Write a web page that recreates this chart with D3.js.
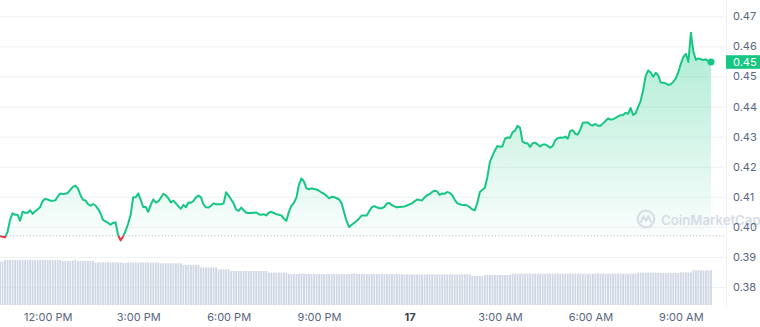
<!DOCTYPE html>
<html><head><meta charset="utf-8">
<script src="https://cdn.jsdelivr.net/npm/d3@7"></script>
<style>html,body{margin:0;padding:0;background:#fff;overflow:hidden}svg{display:block;font-family:Inter,"Noto Sans",sans-serif}</style>
</head><body><svg id="chart" width="760" height="327"></svg>
<script>
const startTime = new Date(2024, 2, 16, 10, 25);
const stepMinutes = 5;
const prices = [
0.3970,0.3967,0.3965,0.3983,0.4023,0.4045,0.4040,0.4040,0.4020,0.4050,
0.4047,0.4047,0.4055,0.4043,0.4052,0.4058,0.4066,0.4086,0.4093,0.4091,
0.4087,0.4087,0.4088,0.4101,0.4111,0.4109,0.4110,0.4113,0.4123,0.4133,
0.4137,0.4128,0.4106,0.4090,0.4088,0.4076,0.4070,0.4076,0.4071,0.4060,
0.4045,0.4023,0.4018,0.4013,0.4007,0.4013,0.4015,0.3973,0.3955,0.3968,
0.3987,0.4010,0.4040,0.4098,0.4098,0.4111,0.4090,0.4066,0.4066,0.4050,
0.4073,0.4091,0.4081,0.4085,0.4096,0.4110,0.4105,0.4095,0.4081,0.4087,
0.4078,0.4068,0.4060,0.4073,0.4065,0.4081,0.4080,0.4086,0.4098,0.4104,
0.4098,0.4075,0.4065,0.4064,0.4070,0.4078,0.4075,0.4075,0.4075,0.4078,
0.4115,0.4104,0.4091,0.4078,0.4057,0.4053,0.4064,0.4055,0.4047,0.4046,
0.4046,0.4047,0.4048,0.4042,0.4040,0.4042,0.4038,0.4047,0.4050,0.4046,
0.4042,0.4040,0.4038,0.4027,0.4020,0.4050,0.4070,0.4080,0.4098,0.4140,
0.4161,0.4150,0.4128,0.4125,0.4128,0.4126,0.4124,0.4120,0.4114,0.4110,
0.4103,0.4095,0.4100,0.4099,0.4095,0.4091,0.4078,0.4047,0.4018,0.3999,
0.4007,0.4013,0.4020,0.4028,0.4038,0.4038,0.4038,0.4053,0.4065,0.4069,
0.4065,0.4062,0.4062,0.4066,0.4078,0.4079,0.4072,0.4068,0.4065,0.4066,
0.4067,0.4068,0.4071,0.4075,0.4078,0.4085,0.4091,0.4089,0.4088,0.4098,
0.4105,0.4109,0.4116,0.4120,0.4118,0.4106,0.4111,0.4110,0.4116,0.4113,
0.4105,0.4090,0.4079,0.4075,0.4073,0.4073,0.4071,0.4065,0.4058,0.4055,
0.4080,0.4116,0.4123,0.4130,0.4166,0.4216,0.4236,0.4254,0.4269,0.4266,
0.4268,0.4293,0.4297,0.4296,0.4314,0.4320,0.4336,0.4329,0.4283,0.4278,
0.4278,0.4266,0.4278,0.4280,0.4274,0.4267,0.4274,0.4274,0.4269,0.4263,
0.4269,0.4288,0.4295,0.4297,0.4296,0.4300,0.4293,0.4319,0.4321,0.4309,
0.4307,0.4324,0.4346,0.4347,0.4347,0.4339,0.4337,0.4342,0.4336,0.4336,
0.4344,0.4352,0.4360,0.4357,0.4358,0.4362,0.4367,0.4371,0.4372,0.4379,
0.4376,0.4395,0.4372,0.4377,0.4399,0.4419,0.4455,0.4502,0.4520,0.4513,
0.4499,0.4512,0.4504,0.4480,0.4479,0.4477,0.4472,0.4474,0.4482,0.4494,
0.4514,0.4542,0.4565,0.4575,0.4548,0.4645,0.4582,0.4555,0.4560,0.4557,
0.4555,0.4557,0.4550,0.4548
];
const volumes = [
96.3,96.3,100,100,100,100,100,100,100,100,
100,100,100,100,100,100,100,100,100,100,
100,100,100,100,100,97.8,97.8,97.8,97.8,98.5,
100.5,97.8,97.8,97.8,97.8,97.8,97.8,97.8,94.8,94.8,
94.8,94.8,94.8,94.8,94.8,94.8,94.8,94.8,94.8,93.5,
93.5,94.8,94.4,94.4,94.4,94.4,94.4,94.4,94.4,94.4,
94.4,94.4,94.4,94.4,92.6,92.6,92.6,92.6,92.6,92.6,
92.6,92.6,92.6,88.9,88.9,88.9,88.9,88.9,88.9,88.9,
83.7,83.7,83.7,83.7,83.7,83.7,83.7,79.3,79.3,79.3,
79.3,79.3,75.6,75.6,75.6,75.6,75.6,75.6,75.6,75.6,
75.6,75.6,75.6,75.6,75.6,75.6,75.6,71.9,71.9,71.9,
71.9,71.9,71.9,71.9,71.9,68.9,68.9,68.9,68.9,68.9,
70.0,70.0,68.9,68.9,68.9,68.9,68.9,68.9,68.9,68.9,
68.9,68.9,68.9,68.9,68.9,68.9,68.9,68.9,68.9,68.9,
70.0,70.0,68.9,68.9,68.9,68.9,68.9,68.9,68.9,68.9,
68.9,68.9,68.9,68.9,68.9,68.9,68.9,68.9,68.9,68.9,
68.1,68.1,68.1,68.1,68.1,68.1,68.1,68.1,68.1,68.1,
68.1,68.1,68.1,68.1,68.1,68.1,68.1,68.1,68.1,68.1,
68.1,68.1,68.1,68.1,68.1,68.1,68.1,68.1,64.4,64.4,
64.4,64.4,64.4,66.7,66.7,66.7,66.7,66.7,66.7,66.7,
66.7,66.7,66.7,66.7,69.6,69.6,69.6,69.6,69.6,69.6,
69.6,69.6,69.6,69.6,69.6,69.6,69.6,69.6,69.6,69.6,
69.6,69.6,69.6,69.6,69.6,69.6,69.6,69.6,69.6,69.6,
69.6,69.6,69.6,69.6,69.6,69.6,69.6,69.6,69.6,69.6,
69.6,69.6,69.6,69.6,69.6,69.6,69.6,69.6,69.6,69.6,
69.6,69.6,69.6,69.6,71.9,71.9,71.9,71.9,71.9,71.9,
71.9,71.9,71.1,71.1,71.1,71.1,71.1,71.1,71.1,71.1,
71.1,72.6,72.6,72.6,72.6,72.6,77.1,77.1,77.1,77.1,
77.1,77.1,77.1,77.1
];
const priceTicks = [0.38,0.39,0.40,0.41,0.42,0.43,0.44,0.45,0.46,0.47];
const timeTicks = [
  new Date(2024,2,16,12,0), new Date(2024,2,16,15,0), new Date(2024,2,16,18,0), new Date(2024,2,16,21,0),
  new Date(2024,2,17,0,0), new Date(2024,2,17,3,0), new Date(2024,2,17,6,0), new Date(2024,2,17,9,0)
];
const timeTickLabels = ["12:00 PM","3:00 PM","6:00 PM","9:00 PM","17","3:00 AM","6:00 AM","9:00 AM"];

const data = prices.map((p, i) => ({
  t: new Date(startTime.getTime() + i * stepMinutes * 60000), p, v: volumes[i]
}));
const ref = prices[0];
const last = data[data.length - 1];

const svg = d3.select("#chart");
const plotRight = 726;
const x = d3.scaleTime().domain([data[0].t, last.t]).range([0, 711]);
const y = d3.scaleLinear().domain([0.38, 0.47]).range([287, 16.3]);
const yv = d3.scaleLinear().domain([0, 100]).range([305, 260]);

const GREEN = "#16c784", RED = "#ea3943";

const defs = svg.append("defs");
const gg = defs.append("linearGradient").attr("id","gGrad").attr("gradientUnits","userSpaceOnUse")
  .attr("x1",0).attr("x2",0).attr("y1",y(d3.max(prices))).attr("y2",y(ref));
gg.append("stop").attr("offset","0%").attr("stop-color",GREEN).attr("stop-opacity",0.36);
gg.append("stop").attr("offset","100%").attr("stop-color",GREEN).attr("stop-opacity",0.02);
const rg = defs.append("linearGradient").attr("id","rGrad").attr("gradientUnits","userSpaceOnUse")
  .attr("x1",0).attr("x2",0).attr("y1",y(ref)).attr("y2",y(d3.min(prices)));
rg.append("stop").attr("offset","0%").attr("stop-color",RED).attr("stop-opacity",0.02);
rg.append("stop").attr("offset","100%").attr("stop-color",RED).attr("stop-opacity",0.15);
defs.append("clipPath").attr("id","clipAbove").append("rect")
  .attr("x",-5).attr("y",0).attr("width",plotRight+5).attr("height",y(ref));
defs.append("clipPath").attr("id","clipBelow").append("rect")
  .attr("x",-5).attr("y",y(ref)).attr("width",plotRight+5).attr("height",327-y(ref));

// grid
svg.append("g").selectAll("line").data(priceTicks).join("line")
  .attr("x1",0).attr("x2",plotRight).attr("y1",d=>y(d)+0.5).attr("y2",d=>y(d)+0.5)
  .attr("stroke","#eff2f5").attr("stroke-width",1);
svg.append("line").attr("x1",plotRight+0.5).attr("x2",plotRight+0.5).attr("y1",0).attr("y2",307)
  .attr("stroke","#eff2f5");

// volume bars
svg.append("g").selectAll("rect").data(data).join("rect")
  .attr("x",d=>x(d.t)-0.9).attr("width",1.8)
  .attr("y",d=>yv(d.v)).attr("height",d=>yv(0)-yv(d.v))
  .attr("fill","#cfd6e4");

// areas
const area = d3.area().x(d=>x(d.t)).y0(y(ref)).y1(d=>y(d.p));
svg.append("path").datum(data).attr("d",area).attr("fill","url(#gGrad)").attr("clip-path","url(#clipAbove)");
svg.append("path").datum(data).attr("d",area).attr("fill","url(#rGrad)").attr("clip-path","url(#clipBelow)");

// reference dotted line
svg.append("line").attr("x1",0).attr("x2",plotRight).attr("y1",y(ref)).attr("y2",y(ref))
  .attr("stroke","#a7b1c2").attr("stroke-width",1).attr("stroke-dasharray","1,2.3");

// watermark
const wm = svg.append("g").attr("transform","translate(646,219)").attr("opacity",0.9);
wm.append("circle").attr("r",8.3).attr("fill","none").attr("stroke","#d6dbe5").attr("stroke-width",2.2);
wm.append("path").attr("d","M-5,3 L-2.5,-3 L0,2 L2.5,-3 L5,3").attr("fill","none")
  .attr("stroke","#d6dbe5").attr("stroke-width",2).attr("stroke-linejoin","round").attr("stroke-linecap","round");
svg.append("text").attr("x",661).attr("y",224.5).attr("font-size",13.2).attr("font-weight",600)
  .attr("fill","#d6dbe5").text("CoinMarketCap");

// lines
const line = d3.line().x(d=>x(d.t)).y(d=>y(d.p));
svg.append("path").datum(data).attr("d",line).attr("fill","none").attr("stroke",GREEN)
  .attr("stroke-width",2).attr("stroke-linejoin","round").attr("clip-path","url(#clipAbove)");
svg.append("path").datum(data).attr("d",line).attr("fill","none").attr("stroke",RED)
  .attr("stroke-width",2).attr("stroke-linejoin","round").attr("clip-path","url(#clipBelow)");
svg.append("circle").attr("cx",x(last.t)).attr("cy",y(last.p)).attr("r",3.5).attr("fill",GREEN);

// y axis
const yAxis = svg.append("g").attr("transform",`translate(${plotRight},0)`)
  .call(d3.axisRight(y).tickValues(priceTicks).tickFormat(d3.format(".2f")).tickSize(0).tickPadding(7));
yAxis.select(".domain").remove();
yAxis.selectAll("text").attr("font-size",11).attr("fill","#58667e").attr("font-family","Inter");

// price tag
const tagY = y(last.p);
svg.append("rect").attr("x",plotRight).attr("y",tagY-6.8).attr("width",34).attr("height",13.6).attr("fill",GREEN);
svg.append("text").attr("x",plotRight+7).attr("y",tagY+3.9).attr("font-size",11).attr("fill","#fff")
  .text(d3.format(".2f")(last.p));

// x axis
const xAxis = svg.append("g").attr("transform","translate(0,307)")
  .call(d3.axisBottom(x).tickValues(timeTicks).tickFormat((d,i)=>timeTickLabels[i]).tickSize(0).tickPadding(6));
xAxis.select(".domain").remove();
xAxis.selectAll("text").attr("font-size",11).attr("fill","#58667e").attr("font-family","Inter")
  .filter((d,i)=>timeTickLabels[i]==="17").attr("font-weight",700).attr("fill","#3b4252");
</script></body></html>
